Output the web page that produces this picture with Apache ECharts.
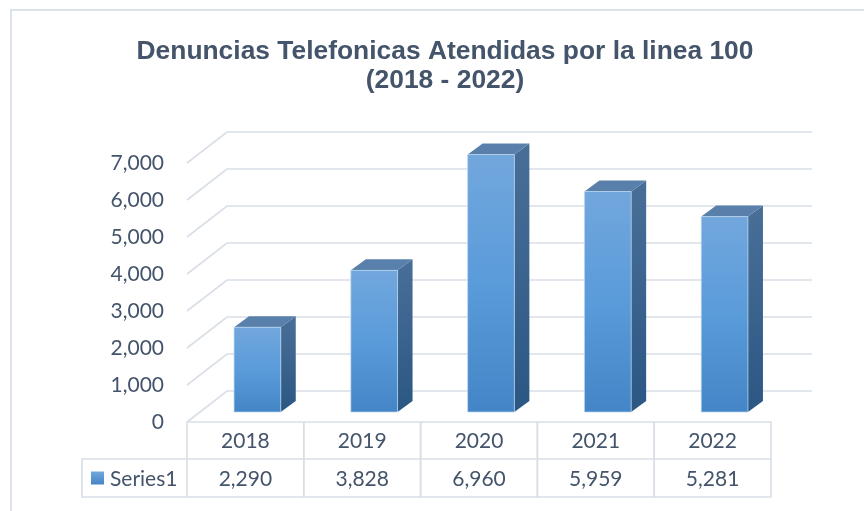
<!DOCTYPE html>
<html>
<head>
<meta charset="utf-8">
<script src="https://cdn.jsdelivr.net/npm/echarts@6/dist/echarts.min.js"></script>
<style>
  html, body { margin: 0; padding: 0; background: #fff; }
  #chart { width: 864px; height: 511px; }
</style>
</head>
<body>
<div id="chart"></div>
<script>
const years = ['2018', '2019', '2020', '2021', '2022'];
const calls = [2290, 3828, 6960, 5959, 5281];
const yTicks = [0, 1000, 2000, 3000, 4000, 5000, 6000, 7000];
const seriesName = 'Series1';
const titleText = 'Denuncias Telefonicas Atendidas por la linea 100\n(2018 - 2022)';

const textColor = '#44546a';
const lineColor = '#d9dee7';
const fmt = v => v.toLocaleString('en-US');

// depth of the 3D floor and of each bar
const floorDx = 40, floorDy = -31;
const barDx = 12, barDy = -10;
const sideDx = 15, sideDy = -11;

const chart = echarts.init(document.getElementById('chart'));

function renderGrid(params, api) {
  const cs = params.coordSys;
  const y = api.coord([0, api.value(0)])[1];
  const x0 = cs.x, x1 = cs.x + cs.width;
  return {
    type: 'polyline',
    shape: { points: [[x0, y], [x0 + floorDx, y + floorDy], [x1 + floorDx + 1, y + floorDy]] },
    style: { stroke: lineColor, lineWidth: 1.6, fill: null }
  };
}

function renderBar(params, api) {
  const c = api.coord([api.value(0), 0]);
  const top = api.coord([api.value(0), api.value(1)]);
  const band = api.size([1, 0])[0];
  const w = band * 0.4;
  const xL = c[0] - w / 2 + barDx, xR = c[0] + w / 2 + barDx;
  const yB = c[1] + barDy, yT = top[1] + barDy;
  return {
    type: 'group',
    children: [
      {
        type: 'polygon',
        shape: { points: [[xR, yT], [xR + sideDx, yT + sideDy], [xR + sideDx, yB + sideDy], [xR, yB]] },
        style: {
          fill: new echarts.graphic.LinearGradient(0, 0, 0, 1, [
            { offset: 0, color: '#496f98' },
            { offset: 1, color: '#2b5783' }
          ])
        }
      },
      {
        type: 'polygon',
        shape: { points: [[xL, yT], [xL + sideDx, yT + sideDy], [xR + sideDx, yT + sideDy], [xR, yT]] },
        style: { fill: '#5880ab' }
      },
      {
        type: 'rect',
        shape: { x: xL, y: yT, width: w, height: yB - yT },
        style: {
          fill: new echarts.graphic.LinearGradient(0, 0, 0, 1, [
            { offset: 0, color: '#72a7dd' },
            { offset: 0.5, color: '#5a9bda' },
            { offset: 1, color: '#4385c6' }
          ]),
          stroke: 'rgba(190,215,240,0.7)',
          lineWidth: 1
        }
      }
    ]
  };
}

function renderTable(params, api) {
  const c = api.coord([api.value(0), 0]);
  const band = api.size([1, 0])[0];
  const xL = c[0] - band / 2;
  const y0 = c[1], y1 = y0 + 37, y2 = y1 + 38;
  const i = params.dataIndex;
  const font = '21px Lato';
  const children = [
    {
      type: 'polyline',
      shape: { points: [[xL, y0], [xL + band, y0], [xL + band, y2], [xL, y2], [xL, y0]] },
      style: { stroke: lineColor, lineWidth: 1.6, fill: null }
    },
    {
      type: 'line',
      shape: { x1: xL, y1: y1, x2: xL + band, y2: y1 },
      style: { stroke: lineColor, lineWidth: 1.6 }
    },
    {
      type: 'text',
      style: { x: c[0], y: (y0 + y1) / 2 + 1, text: years[i], font: font, fill: textColor, align: 'center', verticalAlign: 'middle' }
    },
    {
      type: 'text',
      style: { x: c[0], y: (y1 + y2) / 2 + 1, text: fmt(api.value(1)), font: font, fill: textColor, align: 'center', verticalAlign: 'middle' }
    }
  ];
  if (i === 0) {
    const lx = 82;
    children.push(
      {
        type: 'polyline',
        shape: { points: [[xL, y1], [lx, y1], [lx, y2], [xL, y2]] },
        style: { stroke: lineColor, lineWidth: 1.6, fill: null }
      },
      {
        type: 'rect',
        shape: { x: lx + 9, y: (y1 + y2) / 2 - 6.5, width: 13, height: 13 },
        style: {
          fill: new echarts.graphic.LinearGradient(0, 0, 0, 1, [
            { offset: 0, color: '#72a7dd' },
            { offset: 1, color: '#4385c6' }
          ])
        }
      },
      {
        type: 'text',
        style: { x: lx + 28, y: (y1 + y2) / 2 + 1, text: seriesName, font: font, fill: textColor, align: 'left', verticalAlign: 'middle' }
      }
    );
  }
  return { type: 'group', children: children };
}

const option = {
  backgroundColor: '#fff',
  animation: false,
  title: {
    text: titleText,
    left: 440,
    top: 32,
    textAlign: 'center',
    textStyle: {
      fontFamily: 'Liberation Sans, Arial, sans-serif',
      fontWeight: 'bold',
      fontSize: 26.4,
      lineHeight: 29,
      color: textColor
    }
  },
  graphic: [{
    type: 'rect',
    z: -10,
    shape: { x: 11, y: 10, width: 900, height: 600 },
    style: { fill: null, stroke: '#dce2ec', lineWidth: 2 }
  }],
  grid: { left: 187, right: 93, top: 163, bottom: 89 },
  xAxis: {
    type: 'category',
    data: years,
    axisLine: { show: false },
    axisTick: { show: false },
    axisLabel: { show: false },
    splitLine: { show: false }
  },
  yAxis: {
    type: 'value',
    min: 0,
    max: 7000,
    interval: 1000,
    axisLine: { show: false },
    axisTick: { show: false },
    splitLine: { show: false },
    axisLabel: {
      margin: 23,
      color: textColor,
      fontFamily: 'Lato',
      fontSize: 21,
      formatter: v => fmt(v)
    }
  },
  series: [
    {
      type: 'custom',
      name: 'grid',
      z: 1,
      silent: true,
      renderItem: renderGrid,
      data: yTicks.map(v => [v])
    },
    {
      type: 'custom',
      name: seriesName,
      z: 3,
      renderItem: renderBar,
      encode: { x: 0, y: 1 },
      data: calls.map((v, i) => [i, v])
    },
    {
      type: 'custom',
      name: 'table',
      z: 2,
      silent: true,
      renderItem: renderTable,
      encode: { x: 0, y: 1 },
      data: calls.map((v, i) => [i, v])
    }
  ]
};

chart.setOption(option);
window.addEventListener('resize', () => chart.resize());
</script>
</body>
</html>
